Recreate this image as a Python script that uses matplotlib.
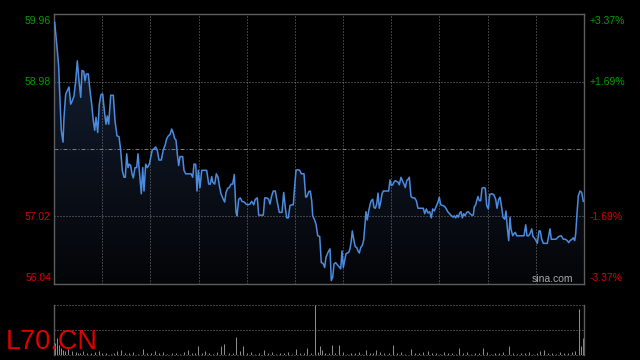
import numpy as np
import matplotlib
matplotlib.use("Agg")
import matplotlib.pyplot as plt
from matplotlib import transforms

# ---------------- data ----------------
prev_close = 58.00
y_labels = [59.96, 58.98, 57.02, 56.04]
pct_labels = ["+3.37%", "+1.69%", "-1.69%", "-3.37%"]
symbol = "L70.CN"

# minute index of each trade sample, and price
t = [0.7, 3.3, 4.7, 6.0, 7.3, 9.0, 10.0, 11.7, 13.3, 15.0, 16.7, 18.3, 20.0, 21.7, 23.3, 25.0,
     26.7, 28.0, 29.7, 31.0, 32.3, 34.3, 36.0, 37.7, 39.3, 40.7, 42.0, 43.7, 45.3, 47.0, 48.7,
     50.3, 52.0, 53.3, 54.7, 56.7, 59.3, 61.0, 63.0, 65.0, 66.7, 68.3, 70.0, 71.3, 72.7, 74.0,
     75.3, 76.7, 78.0, 79.3, 81.0, 82.7, 84.0, 85.3, 87.3, 88.7, 90.0, 91.7, 93.3, 95.3, 96.7,
     98.3, 100.0, 101.7, 103.3, 105.0, 107.3, 109.3, 111.0, 112.7, 114.3, 116.0, 117.7, 119.3,
     120.7, 122.0, 123.3, 124.7, 126.0, 128.7, 130.0, 131.7,
     132.0, 134.7, 137.0, 138.7, 140.0, 141.7, 143.0, 144.3, 146.0, 147.7, 150.3, 152.7, 154.7,
     156.3, 157.7, 158.7, 160.7, 162.3, 164.0, 165.3, 167.0, 169.3, 170.7, 172.0, 173.7, 175.3,
     177.0, 178.7, 180.3, 182.0, 183.0, 184.7, 186.3, 188.0, 190.3, 192.0, 194.0, 196.0, 197.7,
     199.7, 201.3, 203.3, 204.7, 207.0, 209.3, 210.7, 212.7, 214.7, 216.0, 217.7, 219.3, 221.3,
     223.0, 225.3, 228.0, 229.7, 231.3, 232.7, 234.3, 236.0, 238.0, 239.3, 240.3, 242.0, 243.7,
     245.7, 247.3, 250.0, 251.7, 253.0, 254.7, 256.3, 257.7, 258.7, 260.3, 262.0, 263.7,
     265.7, 267.3, 269.0, 270.7, 272.0, 274.0, 276.0, 277.3, 278.7, 280.0, 281.7, 283.3, 285.0,
     286.7, 288.0, 289.3, 290.7, 292.0, 293.3, 294.7, 296.0, 297.3, 298.3, 299.7, 301.3, 302.7,
     304.0, 305.3, 306.7, 308.3, 309.7, 310.7, 312.0, 313.3, 314.7, 316.3, 317.3, 318.7, 320.0,
     321.3, 322.7, 324.0, 325.3, 326.7, 328.0, 329.3, 331.3, 333.3, 334.7, 336.0, 337.3, 338.7,
     340.0, 341.3, 342.7, 344.0, 345.3, 347.0, 348.7, 350.0, 351.3, 352.7, 354.0, 355.3, 357.0,
     358.7, 360.7, 362.3, 364.0, 366.0, 368.0, 369.3, 370.7, 372.3, 374.0, 375.7, 377.3, 378.7,
     380.3, 382.0, 384.0, 385.3, 386.7, 388.7, 390.3, 392.0, 393.7, 395.7,
     396.0, 397.7, 399.0, 400.3, 401.7, 403.0, 404.3, 405.7, 407.0, 408.3, 409.7, 411.0, 412.7,
     414.3, 416.0, 417.7, 419.3, 420.3, 421.7, 422.7, 424.0, 425.3, 426.7, 428.0, 429.7, 431.3,
     432.7, 434.3, 435.7, 437.7, 439.7, 441.7, 443.0, 444.7, 446.0, 447.7, 449.0, 450.7, 452.0,
     453.3, 454.7, 456.0, 457.0, 458.7, 460.0, 461.3, 462.7, 465.3, 468.0, 470.0, 471.7, 473.0,
     474.7, 476.0, 477.7, 479.0, 480.3, 482.0, 483.3, 485.0, 486.3, 487.7, 489.3, 491.3, 493.3,
     494.7, 496.0, 497.3, 499.3, 502.0, 504.7, 507.3, 509.3, 511.3, 513.3, 514.7, 516.0, 518.0,
     519.3, 520.7, 521.7, 523.0, 524.3, 526.0, 527.7, 529.3]

price = [59.84, 59.43, 59.19, 58.70, 58.27, 58.10, 58.46, 58.80, 58.85, 58.90, 58.65, 58.70,
         58.77, 58.99, 59.28, 58.99, 58.75, 59.14, 59.13, 58.99, 59.09, 59.09, 58.85, 58.65,
         58.41, 58.27, 58.46, 58.24, 58.65, 58.79, 58.80, 58.56, 58.36, 58.48, 58.36, 58.78,
         58.78, 58.41, 58.19, 58.18, 57.98, 57.69, 57.59, 57.59, 57.93, 57.73, 57.78, 57.76,
         57.64, 57.58, 57.73, 57.73, 57.93, 57.69, 57.35, 57.73, 57.39, 57.78, 57.73, 57.78,
         57.88, 57.99, 58.00, 58.03, 57.98, 57.84, 57.84, 57.99, 58.05, 58.15, 58.19, 58.21,
         58.29, 58.23, 58.15, 58.13, 57.93, 57.76, 57.89, 57.89, 57.69, 57.64,
         57.64, 57.64, 57.64, 57.59, 57.78, 57.78, 57.39, 57.69, 57.44, 57.69, 57.69, 57.69,
         57.49, 57.49, 57.60, 57.52, 57.49, 57.64, 57.59, 57.47, 57.35, 57.27, 57.23, 57.37,
         57.43, 57.44, 57.49, 57.49, 57.63, 57.08, 57.03, 57.27, 57.29, 57.24, 57.23, 57.20,
         57.19, 57.20, 57.24, 57.19, 57.27, 57.29, 57.04, 57.04, 57.04, 57.29, 57.29, 57.27,
         57.20, 57.32, 57.39, 57.39, 57.25, 57.08, 57.08, 57.37, 57.15, 57.00, 57.00, 57.18,
         57.19, 57.19, 57.39, 57.69, 57.70, 57.69, 57.64, 57.64, 57.30, 57.31, 57.38, 57.39,
         57.25, 57.03, 56.98, 56.91, 56.74,
         56.73, 56.35, 56.34, 56.28, 56.43, 56.50, 56.55, 56.09, 56.14, 56.33, 56.35, 56.32,
         56.29, 56.26, 56.52, 56.28, 56.38, 56.48, 56.49, 56.50, 56.55, 56.67, 56.81, 56.69,
         56.58, 56.57, 56.52, 56.49, 56.57, 56.60, 56.68, 56.86, 57.09, 56.97, 57.10, 57.21,
         57.25, 57.27, 57.15, 57.14, 57.20, 57.36, 57.14, 57.23, 57.35, 57.39, 57.39, 57.39,
         57.39, 57.55, 57.47, 57.48, 57.52, 57.54, 57.53, 57.52, 57.48, 57.59, 57.53, 57.49,
         57.44, 57.54, 57.56, 57.59, 57.31, 57.29, 57.29, 57.25, 57.14, 57.14, 57.14, 57.14,
         57.06, 57.13, 57.07, 57.09, 57.00, 57.13, 57.10, 57.16, 57.23, 57.30, 57.19, 57.18,
         57.17, 57.14, 57.09, 57.06,
         57.05, 57.03, 57.01, 57.03, 57.00, 57.04, 57.01, 57.07, 57.09, 57.00, 57.06, 57.03,
         57.08, 57.09, 57.06, 57.04, 57.04, 57.16, 57.19, 57.25, 57.31, 57.25, 57.25, 57.43,
         57.44, 57.43, 57.18, 57.13, 57.34, 57.35, 57.34, 57.27, 57.14, 57.27, 57.30, 57.15,
         57.01, 56.98, 57.10, 56.86, 56.67, 57.01, 56.84, 56.74, 56.77, 56.79, 56.74, 56.74,
         56.74, 56.74, 56.90, 56.74, 56.74, 56.77, 56.84, 56.73, 56.71, 56.67, 56.63, 56.81,
         56.81, 56.69, 56.63, 56.63, 56.63, 56.74, 56.84, 56.69, 56.69, 56.69, 56.73, 56.74,
         56.69, 56.69, 56.67, 56.64, 56.67, 56.69, 56.71, 56.67, 56.77, 57.06, 57.32, 57.39,
         57.37, 57.24]

# volume samples (minute index, volume)
vol_t = [1, 3, 5, 7, 9, 11, 14, 18, 22, 24, 26, 29, 33, 37, 41, 45, 48, 52, 57, 60, 63, 67,
         71, 75, 79, 84, 89, 93, 97, 101, 105, 109, 113, 118, 122, 126, 130, 134, 138, 141,
         144, 148, 151, 155, 159, 163, 167, 170, 175, 179, 182, 186, 189, 193, 197, 201, 205,
         210, 214, 218, 222, 226, 230, 234, 238, 242, 246, 250, 253, 257, 261, 264, 266, 268,
         271, 275, 278, 281, 285, 289, 293, 297, 301, 305, 308, 312, 316, 319, 322, 326, 330,
         335, 339, 343, 347, 351, 357, 361, 365, 369, 374, 378, 382, 386, 390, 394, 398, 402,
         405, 409, 413, 417, 421, 425, 429, 433, 437, 441, 445, 449, 455, 459, 463, 467, 471,
         475, 479, 483, 486, 490, 494, 498, 502, 506, 510, 514, 518, 521, 525, 527, 529]
vol = [23, 34, 20, 13, 10, 8, 11, 7, 5, 4, 3, 8, 4, 3, 5, 8, 3, 4, 2, 3, 7, 9,
       4, 3, 5, 2, 11, 3, 4, 8, 3, 5, 2, 4, 3, 2, 5, 10, 3, 4,
       18, 3, 7, 4, 2, 5, 17, 22, 3, 4, 35, 8, 17, 3, 5, 2, 4,
       10, 3, 5, 2, 4, 3, 5, 2, 12, 3, 4, 13, 3, 100, 5, 17, 10,
       3, 4, 19, 3, 19, 5, 2, 4, 3, 5, 2, 10, 4, 3, 9, 5, 3,
       4, 19, 3, 5, 2, 12, 3, 4, 5, 7, 3, 4, 2, 5, 3, 4, 2,
       13, 3, 5, 2, 4, 3, 13, 5, 2, 4, 3, 5, 17, 3, 2, 4, 3,
       5, 2, 4, 8, 9, 3, 4, 2, 5, 3, 4, 5, 8, 92, 17, 33]

# ---------------- styling ----------------
BG = "black"
SPINE = "#5e5e5e"
GRID = "#7a7a7a"
GREEN = "#00a000"
RED = "#dd0000"
LINE = "#4b8be0"
FONT = "Liberation Sans"
DOT = (0, (1, 2))
LW1 = 0.72  # one pixel at 100 dpi

fig = plt.figure(figsize=(6.4, 3.6), dpi=100, facecolor=BG)
ax = fig.add_axes([54 / 640, 1 - 284 / 360, 530 / 640, 270 / 360], facecolor=BG)
axv = fig.add_axes([54 / 640, 1 - 355 / 360, 530 / 640, 50.3 / 360], facecolor=BG)

ymin, ymax = y_labels[-1], y_labels[0]
xmax = 530
ax.set_xlim(0, xmax)
ax.set_ylim(ymin, ymax)

# gradient area under the price line
poly = ax.fill_between(t, price, ymin, color="none", lw=0)
top_c = np.array([21, 33, 54]) / 255
bot_c = np.array([4, 5, 8]) / 255
f = np.linspace(0, 1, 256)[:, None]
grad = (top_c[None, :] * (1 - f) + bot_c[None, :] * f)[:, None, :]
im = ax.imshow(grad, extent=[0, xmax, ymin, ymax], aspect="auto", origin="upper",
               zorder=1, interpolation="bilinear")
im.set_clip_path(poly.get_paths()[0], ax.transData)

# grid
for k in range(1, 11):
    ax.axvline(xmax * k / 11, color=GRID, lw=LW1, ls=DOT, zorder=2)
for v in (y_labels[1], y_labels[2]):
    ax.axhline(v, color=GRID, lw=LW1, ls=DOT, zorder=2)
ax.axhline(prev_close, color=GRID, lw=LW1, ls=(0, (4, 2, 1, 2)), zorder=2)

ax.plot(t, price, color=LINE, lw=1.1, zorder=4, solid_joinstyle="round")

ax.set_xticks([])
ax.set_yticks([])
for s in ax.spines.values():
    s.set_color(SPINE)
    s.set_linewidth(1)

# axis labels
offsets = [-10.2, -3.7, -3.7, 2.6]
for v, pl, off in zip(y_labels, pct_labels, offsets):
    base = transforms.blended_transform_factory(ax.transAxes, ax.transData)
    tr = transforms.offset_copy(base, fig=fig, x=0, y=off, units="dots")
    col = GREEN if v > prev_close else RED
    ax.text(-3 / 530, v, f"{v:.2f}", transform=tr, ha="right", va="baseline",
            color=col, fontsize=7.5, family=FONT, clip_on=False)
    ax.text(1 + 6 / 530, v, pl, transform=tr, ha="left", va="baseline",
            color=col, fontsize=7.5, family=FONT, clip_on=False)

ax.text(0.979, 1.5 / 270, "sina.com", transform=ax.transAxes, ha="right", va="baseline",
        color="#a8a8a8", fontsize=7.5, family=FONT, zorder=5)

# volume panel
axv.set_xlim(0, xmax)
axv.set_ylim(0, 100)
axv.vlines(vol_t, 0, vol, color="#8c8c8c", lw=LW1)
for v in (0, 50, 100):
    axv.axhline(v, color=GRID, lw=LW1, ls=DOT, clip_on=False)
axv.set_xticks([])
axv.set_yticks([])
axv.spines["top"].set_visible(False)
axv.spines["bottom"].set_visible(False)
for k in ("left", "right"):
    axv.spines[k].set_color(SPINE)
    axv.spines[k].set_linewidth(1)

fig.text(5.7 / 640, 1 - 349.3 / 360, symbol, color="#e00000", fontsize=19.5,
         family=FONT, ha="left", va="baseline", zorder=10)

fig.savefig("out.png", dpi=100, facecolor=BG)
